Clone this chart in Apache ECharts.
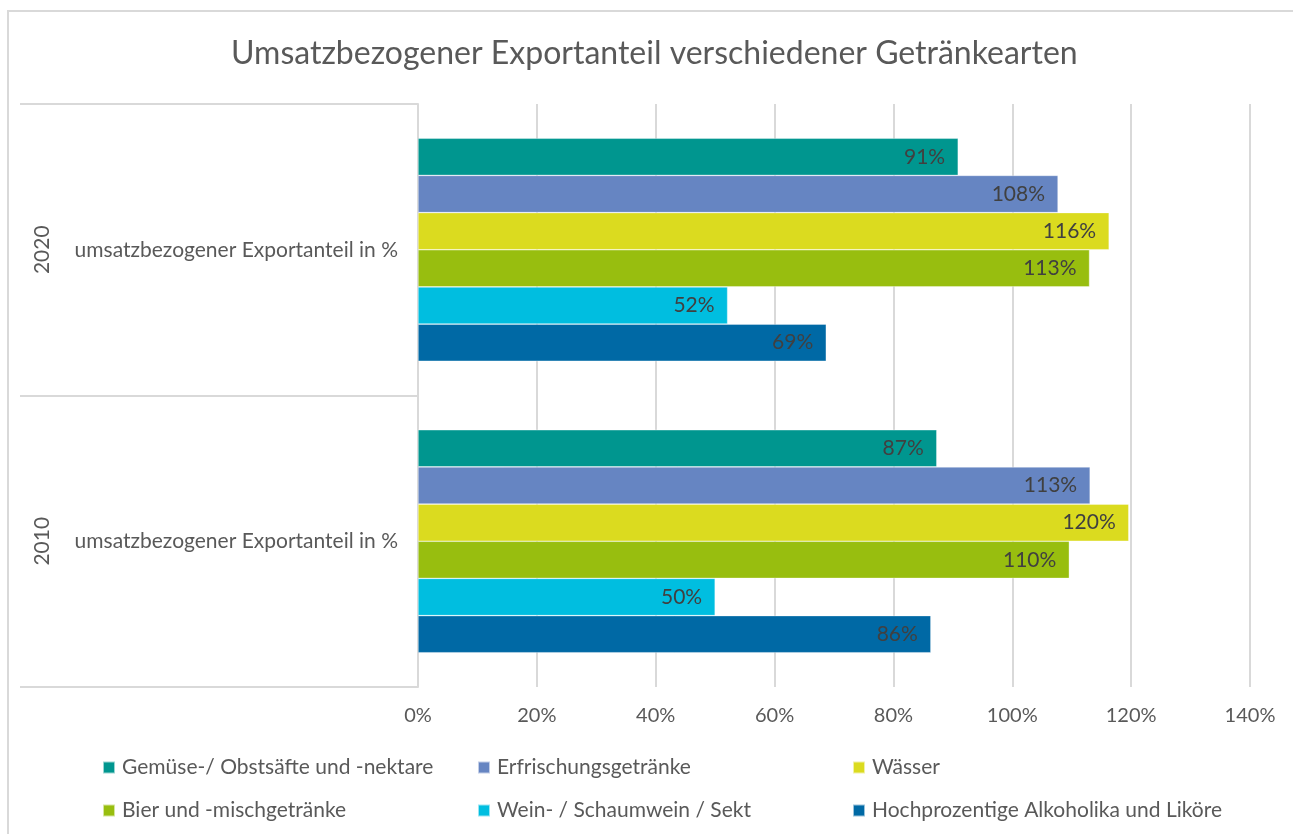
<!DOCTYPE html>
<html>
<head>
<meta charset="utf-8">
<script src="https://cdn.jsdelivr.net/npm/echarts@6/dist/echarts.min.js"></script>
<style>
  html, body { margin: 0; padding: 0; background: #fff; }
  #main { width: 1293px; height: 834px; }
</style>
</head>
<body>
<div id="main"></div>
<script>
// categories (bottom to top)
const jahre = ['2010', '2020'];
const kennzahl = 'umsatzbezogener Exportanteil in %';

// values in % per series, order [2010, 2020]
const gemuese = [87.3, 90.9];
const erfrischung = [113.1, 107.7];
const waesser = [119.6, 116.3];
const bier = [109.6, 113.0];
const wein = [50.0, 52.1];
const hochprozentig = [86.3, 68.7];

const serienNamen = [
    'Gemüse-/ Obstsäfte und -nektare',
    'Erfrischungsgetränke',
    'Wässer',
    'Bier und -mischgetränke',
    'Wein- / Schaumwein / Sekt',
    'Hochprozentige Alkoholika und Liköre'
];
const serienWerte = [gemuese, erfrischung, waesser, bier, wein, hochprozentig];
const farben = ['#00968F', '#6685C2', '#DBDB1F', '#98BE0F', '#00BEE0', '#0069A5'];

const schrift = 'Lato, "Open Sans", sans-serif';
const grau = '#595959';

const chart = echarts.init(document.getElementById('main'));

function legende(left, namen) {
    return {
        orient: 'vertical',
        left: left,
        top: 752,
        itemWidth: 12,
        itemHeight: 12,
        itemGap: 22,
        icon: 'rect',
        data: namen,
        textStyle: { fontFamily: schrift, fontSize: 21, color: grau, padding: [0, 0, 0, 2] }
    };
}

const option = {
    animation: false,
    color: farben,
    title: {
        text: 'Umsatzbezogener Exportanteil verschiedener Getränkearten',
        left: 226,
        top: 33,
        textStyle: { fontFamily: schrift, fontSize: 32, fontWeight: 'normal', color: grau }
    },
    graphic: [{
        type: 'rect',
        shape: { x: 8, y: 11, width: 1400, height: 1000 },
        style: { fill: 'none', stroke: '#d9d9d9', lineWidth: 2 },
        silent: true
    }],
    legend: [
        legende(97, [serienNamen[0], serienNamen[3]]),
        legende(472, [serienNamen[1], serienNamen[4]]),
        legende(847, [serienNamen[2], serienNamen[5]])
    ],
    grid: { left: 418, right: 43, top: 104, bottom: 147 },
    xAxis: {
        type: 'value',
        min: 0,
        max: 140,
        interval: 20,
        axisLine: { show: false },
        axisTick: { show: false },
        splitLine: { lineStyle: { color: '#d9d9d9', width: 2 } },
        axisLabel: {
            margin: 19,
            fontFamily: schrift, fontSize: 20, color: grau,
            formatter: v => v + '%'
        }
    },
    yAxis: [{
        type: 'category',
        data: jahre,
        axisLine: { lineStyle: { color: '#d9d9d9', width: 2 } },
        axisTick: { show: true, length: 398, interval: 0, lineStyle: { color: '#d9d9d9', width: 2 } },
        axisLabel: {
            margin: 20,
            fontFamily: schrift, fontSize: 21, color: grau,
            formatter: () => kennzahl
        }
    }, {
        type: 'category',
        data: jahre,
        position: 'left',
        offset: 365,
        axisLine: { show: false },
        axisTick: { show: false },
        axisLabel: {
            rotate: 90,
            margin: 0,
            fontFamily: schrift, fontSize: 21, color: grau
        }
    }],
    series: serienNamen.map((name, i) => ({
        name: name,
        type: 'bar',
        data: serienWerte[i],
        barCategoryGap: '23.5%',
        barGap: '0%',
        itemStyle: { borderColor: 'rgba(255,255,255,0.6)', borderWidth: 0.6 },
        label: {
            show: true,
            position: 'insideRight',
            distance: 13,
            fontFamily: schrift, fontSize: 21, color: '#404040',
            formatter: p => Math.round(p.value) + '%'
        }
    }))
};

chart.setOption(option);
</script>
</body>
</html>
